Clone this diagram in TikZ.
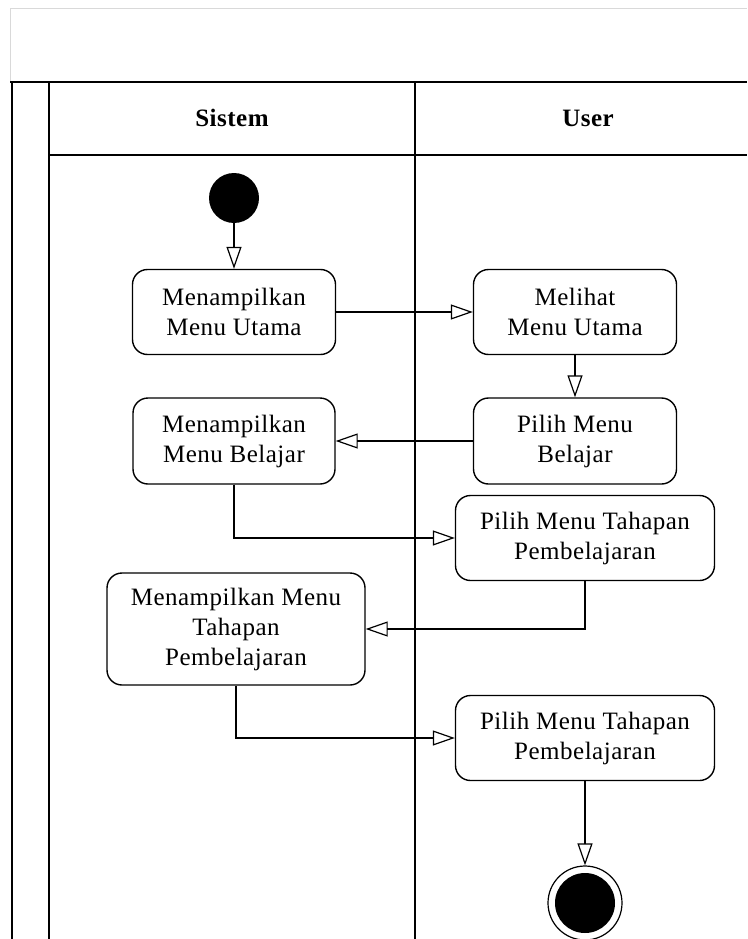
\documentclass[tikz,border=0pt]{standalone}
\usepackage{fontspec}
\setmainfont[LetterSpace=2]{Liberation Serif}
\usetikzlibrary{arrows.meta}
\tikzset{
  lane/.style={line width=1.4pt, black},
  frame/.style={line width=0.8pt, black!15},
  act/.style={draw, line width=1.4pt, rounded corners=15pt, align=center, inner sep=0pt,
    font=\fontsize{25}{30}\selectfont},
  hdr/.style={font=\fontsize{25}{30}\selectfont\bfseries},
  flow/.style={line width=1.2pt, -{Triangle[open, length=22pt, width=15pt, line width=1.2pt]}},
  startnode/.style={circle, fill=black, minimum size=50pt, inner sep=0pt},
  endnode/.style={circle, draw, line width=1.2pt, fill=white, minimum size=74pt, inner sep=0pt},
  endcore/.style={circle, fill=black, minimum size=60pt, inner sep=0pt}
}
\begin{document}
\begin{tikzpicture}[x=1pt,y=-1pt]
\useasboundingbox (0,0) rectangle (747,939);
% frame
\draw[frame] (10,82) -- (10,8) -- (747,8);
% swimlanes
\draw[lane] (10,82) -- (747,82);
\draw[lane] (12,82) -- (12,939);
\draw[lane] (49,82) -- (49,939);
\draw[lane] (49,155) -- (747,155);
\draw[lane] (415,82) -- (415,939);
\node[hdr] (hs) at (232,118) {Sistem};
\node[hdr] (hu) at (588,118) {User};
% nodes
\node[startnode] (start) at (234,198) {};
\node[act, minimum width=203pt, minimum height=85pt] (mu) at (234,312) {Menampilkan\\Menu Utama};
\node[act, minimum width=203pt, minimum height=85pt] (lu) at (575,312) {Melihat\\Menu Utama};
\node[act, minimum width=203pt, minimum height=86pt] (pb) at (575,441) {Pilih Menu\\Belajar};
\node[act, minimum width=202pt, minimum height=86pt] (mb) at (234,441) {Menampilkan\\Menu Belajar};
\node[act, minimum width=259pt, minimum height=85pt] (pt1) at (585,538) {Pilih Menu Tahapan\\Pembelajaran};
\node[act, minimum width=258pt, minimum height=112pt] (mt) at (236,629) {Menampilkan Menu\\Tahapan\\Pembelajaran};
\node[act, minimum width=259pt, minimum height=85pt] (pt2) at (585,738) {Pilih Menu Tahapan\\Pembelajaran};
\node[endnode] (end) at (585,903) {};
\node[endcore] (endc) at (end) {};
% flows
\draw[flow] (start) -- (mu);
\draw[flow] (mu) -- (lu);
\draw[flow] (lu) -- (pb);
\draw[flow] (pb) -- (mb);
\draw[flow] (mb.south) |- (pt1.west);
\draw[flow] (pt1.south) |- (mt.east);
\draw[flow] (mt.south) |- (pt2.west);
\draw[flow] (pt2) -- (end);
\end{tikzpicture}
\end{document}
